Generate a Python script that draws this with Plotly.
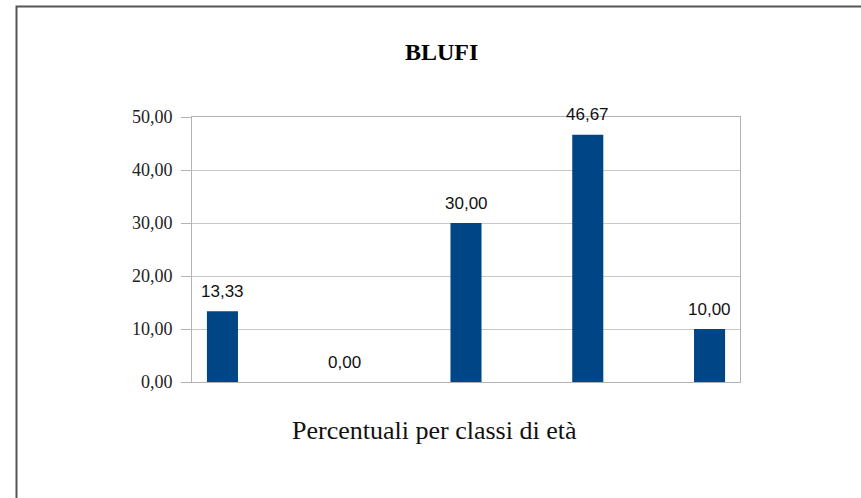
import plotly.graph_objects as go

categories = ["Classe 1", "Classe 2", "Classe 3", "Classe 4", "Classe 5"]
values = [13.33, 0.00, 30.00, 46.67, 10.00]
title_text = "BLUFI"
x_title = "Percentuali per classi di età"

W, H = 861, 498
L, R, T, B = 192, 740, 117, 382

fig = go.Figure()
fig.add_trace(go.Bar(
    x=categories, y=values,
    width=0.255,
    marker=dict(color="#004586", line=dict(width=0)),
    hoverinfo="x+y",
))

pw, ph = R - L, B - T
def px(xp):
    return (xp - L) / pw
def py(yp):
    return (B - yp) / ph

annotations = [
    dict(x=c, y=v, xref="x", yref="y", text=f"{v:.2f}".replace(".", ","),
         showarrow=False, yanchor="middle", xanchor="center", yshift=20,
         font=dict(family="Liberation Sans", size=17, color="#111111"))
    for c, v in zip(categories, values)
]
annotations += [
    dict(text="<b>" + title_text + "</b>", xref="paper", yref="paper",
         x=px(441), y=py(52), showarrow=False, xanchor="center", yanchor="middle",
         font=dict(family="Liberation Serif", size=24, color="#000000")),
    dict(text=x_title, xref="paper", yref="paper",
         x=px(434), y=py(430), showarrow=False, xanchor="center", yanchor="middle",
         font=dict(family="Liberation Serif", size=26, color="#111111")),
]

fig.update_layout(
    width=W, height=H,
    margin=dict(l=L, r=W - R, t=T, b=H - B, pad=0),
    paper_bgcolor="white", plot_bgcolor="white",
    separators=",.",
    showlegend=False,
    xaxis=dict(range=[-0.25, 4.25], showticklabels=False, ticks="",
               showgrid=False, showline=True, linecolor="#b3b3b3", linewidth=1,
               mirror=True, zeroline=False),
    yaxis=dict(range=[0, 50], dtick=10, tickformat=".2f", ticks="outside",
               ticklen=10, tickcolor="#b3b3b3", showgrid=True, gridcolor="#c8c8c8",
               gridwidth=1, showline=True, linecolor="#b3b3b3", linewidth=1,
               mirror=True, zeroline=False, ticklabelstandoff=5,
               tickfont=dict(family="Liberation Serif", size=18, color="#222222")),
    shapes=[dict(type="rect", xref="paper", yref="paper",
                 x0=px(16.5), y0=py(700), x1=px(1000), y1=py(6.5),
                 line=dict(color="#555555", width=2), fillcolor="rgba(0,0,0,0)",
                 layer="below")],
    annotations=annotations,
)

fig.write_html("out.html",
               config={"displayModeBar": False},
               post_script="document.body.style.margin='0';document.body.style.overflow='hidden';")
